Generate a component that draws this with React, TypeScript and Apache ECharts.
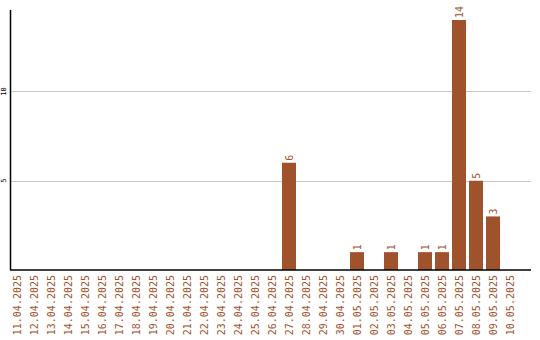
import React, { useEffect, useRef } from "react";
import * as echarts from "echarts";

const dates = [
  "11.04.2025", "12.04.2025", "13.04.2025", "14.04.2025", "15.04.2025",
  "16.04.2025", "17.04.2025", "18.04.2025", "19.04.2025", "20.04.2025",
  "21.04.2025", "22.04.2025", "23.04.2025", "24.04.2025", "25.04.2025",
  "26.04.2025", "27.04.2025", "28.04.2025", "29.04.2025", "30.04.2025",
  "01.05.2025", "02.05.2025", "03.05.2025", "04.05.2025", "05.05.2025",
  "06.05.2025", "07.05.2025", "08.05.2025", "09.05.2025", "10.05.2025",
];

const counts = [
  0, 0, 0, 0, 0, 0, 0, 0, 0, 0,
  0, 0, 0, 0, 0, 0, 6, 0, 0, 0,
  1, 0, 1, 0, 1, 1, 14, 5, 3, 0,
];

const gridValues = [5, 10];

const BAR = "#a0522d";
const MONO = "'DejaVu Sans Mono', monospace";
const AXIS_RIGHT = 531;

export default function App() {
  const ref = useRef<HTMLDivElement>(null);

  useEffect(() => {
    if (!ref.current) return;
    const chart = echarts.init(ref.current, null, { renderer: "svg" });
    chart.setOption({
      animation: false,
      backgroundColor: "#ffffff",
      grid: { left: 8.5, top: 10, width: 510, height: 260 },
      xAxis: {
        type: "category",
        data: dates,
        axisLine: { show: false },
        axisTick: { show: false },
        axisLabel: {
          rotate: 90,
          interval: 0,
          margin: 5,
          color: BAR,
          fontSize: 10,
          fontFamily: MONO,
        },
      },
      yAxis: {
        type: "value",
        min: 0,
        max: 14.56,
        interval: 5,
        axisLine: { show: false },
        axisTick: { show: false },
        splitLine: { show: false },
        axisLabel: {
          rotate: 90,
          margin: 1,
          color: "#000",
          fontSize: 7,
          fontWeight: "normal",
          fontFamily: MONO,
          formatter: (v: number) => (v === 0 || v > 14 ? "" : String(v)),
        },
      },
      series: [
        {
          type: "bar",
          barWidth: 14,
          itemStyle: { color: BAR },
          data: counts.map((v) => ({
            value: v,
            label: { show: v > 0 },
          })),
          label: {
            position: "top",
            rotate: 90,
            align: "left",
            verticalAlign: "middle",
            distance: 2,
            color: BAR,
            fontSize: 10,
            fontFamily: MONO,
          },
        },
      ],
    });

    // Horizontal grid lines and axis lines run out to the right edge of the plot frame.
    const y0 = chart.convertToPixel({ yAxisIndex: 0 }, 0) as number;
    const yTop = chart.convertToPixel({ yAxisIndex: 0 }, 14.56) as number;
    const gridLines = gridValues.map((v) => {
      const y = Math.round(chart.convertToPixel({ yAxisIndex: 0 }, v) as number) + 0.5;
      return {
        type: "line",
        shape: { x1: 10, y1: y, x2: AXIS_RIGHT, y2: y },
        style: { stroke: "#c8c8c8", lineWidth: 1 },
        z: -1,
      };
    });
    chart.setOption({
      graphic: [
        ...gridLines,
        {
          type: "line",
          shape: { x1: 10.5, y1: yTop, x2: 10.5, y2: y0 },
          style: { stroke: "#000", lineWidth: 1.5 },
          z: 10,
        },
        {
          type: "line",
          shape: { x1: 10, y1: y0, x2: AXIS_RIGHT, y2: y0 },
          style: { stroke: "#000", lineWidth: 1.5 },
          z: 10,
        },
      ],
    });
    return () => chart.dispose();
  }, []);

  return <div ref={ref} style={{ width: 540, height: 340, position: "absolute", left: 0, top: 0 }} />;
}
